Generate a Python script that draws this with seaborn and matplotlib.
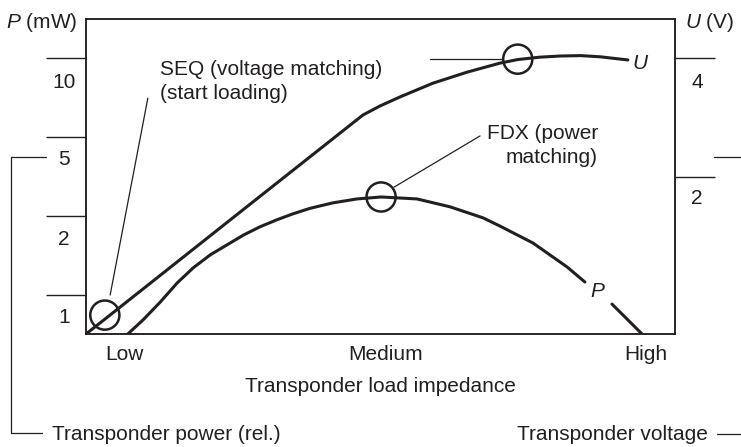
import matplotlib
matplotlib.use("Agg")
import matplotlib.pyplot as plt
import seaborn as sns
from matplotlib.lines import Line2D

# -------------------------------------------------------------------
# Data (schematic diagram units, x: load impedance 0..10, y: 0..8)
# -------------------------------------------------------------------

# Transponder voltage U
u_x = [0.0, 0.34, 2.78, 4.70, 4.99, 5.33, 5.89, 6.47, 7.03, 7.33, 7.70, 8.05, 8.40, 8.73, 9.20]
u_y = [0.0, 0.40, 3.29, 5.56, 5.79, 6.02, 6.37, 6.65, 6.88, 6.97, 7.03, 7.06, 7.07, 7.04, 6.96]

# Transponder power P (main part and tail after the "P" label)
p_x = [0.71, 0.97, 1.26, 1.55, 1.82, 2.11, 2.39, 2.67, 2.95, 3.24, 3.51, 3.80, 4.19,
       4.60, 5.01, 5.62, 6.18, 6.74, 7.03, 7.59, 8.17, 8.47]
p_y = [0.0, 0.36, 0.81, 1.30, 1.68, 2.01, 2.26, 2.51, 2.72, 2.90, 3.05, 3.19, 3.33,
       3.43, 3.48, 3.43, 3.23, 2.95, 2.74, 2.31, 1.70, 1.32]
p_tail_x = [8.93, 9.44]
p_tail_y = [0.76, 0.0]

# Marked operating points (SEQ, FDX, U saturation)
mark_x = [0.32, 5.01, 7.33]
mark_y = [0.48, 3.48, 6.98]

# Axis tick positions and labels
x_ticks = [0.66, 5.08, 9.51]
x_labels = ["Low", "Medium", "High"]
p_tick_lines = [1, 3, 5, 7]
p_label_pos = [0.48, 2.46, 4.47, 6.45]
p_labels = ["1", "2", "5", "10"]
u_tick_lines = [4, 7]
u_label_pos = [3.48, 6.45]
u_labels = ["2", "4"]

# -------------------------------------------------------------------
# Style
# -------------------------------------------------------------------
sns.set_style("white")
plt.rcParams["font.family"] = ["Liberation Sans", "DejaVu Sans"]
plt.rcParams["mathtext.fontset"] = "custom"
plt.rcParams["mathtext.rm"] = "Liberation Sans"
plt.rcParams["mathtext.it"] = "Liberation Sans:italic"

INK = "#231f20"
FS = 15

W, H = 741, 447
fig = plt.figure(figsize=(W / 100, H / 100), dpi=100)
ax = fig.add_axes([86 / W, 1 - 334 / H, (675 - 86) / W, (334 - 19) / H])


def px(x, y):
    # figure pixel -> figure fraction
    return x / W, 1 - y / H


# curves
sns.lineplot(x=u_x, y=u_y, ax=ax, color=INK, lw=2.2, sort=False, estimator=None)
sns.lineplot(x=p_x, y=p_y, ax=ax, color=INK, lw=2.2, sort=False, estimator=None)
sns.lineplot(x=p_tail_x, y=p_tail_y, ax=ax, color=INK, lw=2.2, sort=False, estimator=None)

# circles
ax.scatter(mark_x, mark_y, s=440, facecolors="none", edgecolors=INK,
           linewidths=1.8, zorder=5, clip_on=False)

# leader lines
ax.plot([0.41, 1.05], [0.99, 5.99], color=INK, lw=0.9)
ax.plot([5.23, 6.69], [3.73, 5.03], color=INK, lw=0.9)
ax.plot([5.84, 7.08], [6.98, 6.98], color=INK, lw=0.9)

# annotations
ax.text(1.26, 6.73, "SEQ (voltage matching)", fontsize=FS, color=INK, va="center")
ax.text(1.26, 6.12, "(start loading)", fontsize=FS, color=INK, va="center")
ax.text(8.69, 5.10, "FDX (power", fontsize=FS, color=INK, va="center", ha="right")
ax.text(8.69, 4.47, "matching)", fontsize=FS, color=INK, va="center", ha="right")
ax.text(9.41, 6.88, "$U$", fontsize=FS, color=INK, va="center", ha="center")
ax.text(8.69, 1.07, "$P$", fontsize=FS, color=INK, va="center", ha="center")

ax.set_xlim(0, 10)
ax.set_ylim(0, 8)

# x axis
ax.set_xticks(x_ticks, labels=x_labels)
ax.tick_params(axis="x", length=0, pad=8, labelsize=FS, labelcolor=INK)
ax.set_xlabel("Transponder load impedance", fontsize=FS, color=INK, labelpad=9)

# left axis (P)
ax.set_yticks(p_tick_lines, labels=[""] * len(p_tick_lines))
ax.set_yticks(p_label_pos, labels=p_labels, minor=True)
ax.tick_params(axis="y", which="major", direction="out", length=28.8, width=1.0,
               color=INK, left=True)
ax.tick_params(axis="y", which="minor", length=0, pad=15.8, labelsize=FS,
               labelcolor=INK, left=True)
for t in ax.get_yticklabels(minor=True):
    t.set_ha("center")

# right axis (U)
ax2 = ax.twinx()
ax2.set_ylim(0, 8)
ax2.set_yticks(u_tick_lines, labels=[""] * len(u_tick_lines))
ax2.set_yticks(u_label_pos, labels=u_labels, minor=True)
ax2.tick_params(axis="y", which="major", direction="out", length=28.8, width=1.0,
                color=INK, right=True)
ax2.tick_params(axis="y", which="minor", length=0, pad=15.8, labelsize=FS,
                labelcolor=INK, right=True)
for t in ax2.get_yticklabels(minor=True):
    t.set_ha("center")

for a in (ax, ax2):
    for s in a.spines.values():
        s.set_color(INK)
        s.set_linewidth(1.1)

# axis titles
fig.text(*px(77, 22), "$P$ (mW)", fontsize=FS, color=INK, ha="right", va="center")
fig.text(*px(685, 22), "$U$ (V)", fontsize=FS, color=INK, ha="left", va="center")

# brackets at the bottom
for xs, ys in [([46, 11, 11, 42], [157, 157, 433, 433]),
               ([714, 741], [157, 157]),
               ([717, 741], [434, 434])]:
    fx = [x / W for x in xs]
    fy = [1 - y / H for y in ys]
    fig.add_artist(Line2D(fx, fy, color=INK, lw=0.9, transform=fig.transFigure))

fig.text(*px(52, 435), "Transponder power (rel.)", fontsize=FS, color=INK,
         ha="left", va="center")
fig.text(*px(708, 435), "Transponder voltage", fontsize=FS, color=INK,
         ha="right", va="center")

plt.savefig("out.png", dpi=100)
plt.close()
